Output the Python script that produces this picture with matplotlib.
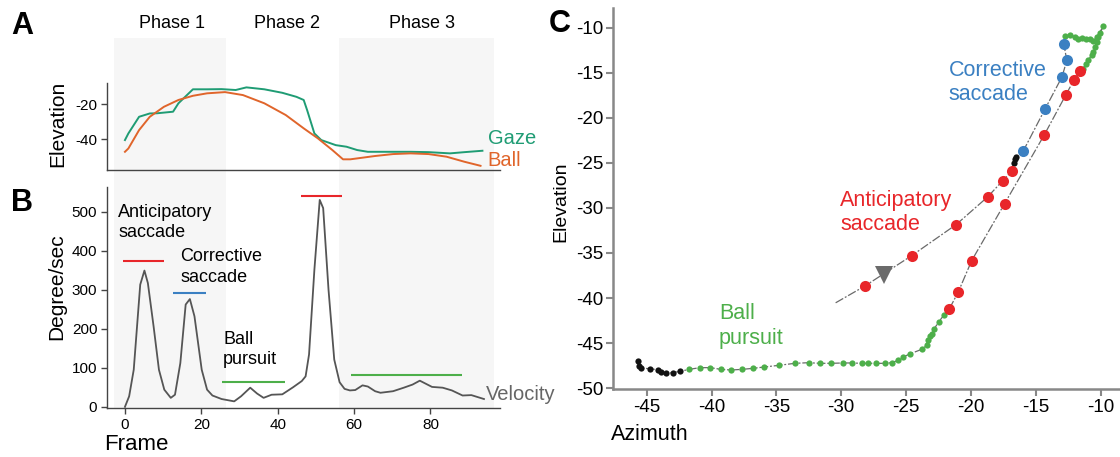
import matplotlib
matplotlib.use("Agg")
import matplotlib.pyplot as plt

plt.rcParams["font.family"] = ["Liberation Sans", "DejaVu Sans"]
plt.rcParams["axes.unicode_minus"] = False

W, H = 1120, 457

# ---- panel A: elevation of gaze and ball over frames
gaze_frames = [0, 0.9, 3.7, 6.5, 8.4, 12.6, 14.0, 17.8, 21.5, 25.3, 29.0, 31.8, 36.5, 41.2,
               44.9, 46.8, 47.7, 49.6, 51.4, 55.2, 58.0, 60.8, 63.6, 70.2, 74.8, 79.5, 85.1,
               88.9, 93.6]
gaze_elev = [-40.4, -36.6, -27.1, -25.2, -25.1, -24.2, -19.4, -11.4, -11.4, -11.3, -11.8, -10.3,
             -11.4, -13.4, -15.7, -17.5, -23.3, -36.6, -40.4, -43.3, -44.2, -46.1, -47.1, -47.1,
             -47.1, -47.3, -48.0, -47.3, -46.5]
ball_frames = [0, 0.9, 3.7, 6.5, 10.2, 14.0, 17.8, 21.5, 26.2, 30.9, 36.5, 42.1, 46.8, 50.5,
               54.3, 57.1, 59.0, 65.5, 70.2, 74.8, 79.5, 84.2, 88.9, 93.1]
ball_elev = [-47.1, -45.2, -34.7, -27.1, -21.4, -17.5, -15.1, -13.7, -13.0, -14.7, -19.4, -26.1,
             -33.7, -39.4, -46.1, -51.4, -51.4, -49.5, -48.4, -48.0, -48.4, -49.9, -52.8, -55.1]

phase_names = ["Phase 1", "Phase 2", "Phase 3"]
phase_label_x = [12.2, 42.4, 77.9]
shaded_spans = [(-2.8, 26.5), (56.1, 96.7)]

# ---- panel B: gaze velocity
vel_frames = [0.0, 1.1, 2.3, 4.0, 5.1, 6.0, 7.5, 8.9, 10.3, 12.0, 13.1, 14.5, 15.9, 17.0, 18.2,
              20.1, 21.5, 22.9, 25.3, 28.6, 30.4, 32.8, 34.6, 36.3, 38.4, 41.2, 44.0, 46.3,
              47.3, 48.2, 49.6, 51.0, 51.9, 53.3, 54.8, 56.2, 57.5, 58.9, 60.3, 62.2, 63.6,
              65.5, 66.9, 70.2, 73.0, 75.3, 77.2, 78.6, 80.4, 83.2, 85.6, 88.4, 90.7, 94.0]
vel_values = [0, 27, 95, 313, 349, 317, 206, 95, 44, 23, 31, 112, 262, 276, 232, 95, 44, 29, 20,
              14, 27, 49, 34, 23, 31, 32, 50, 66, 78, 134, 351, 530, 509, 300, 121, 63, 46, 42,
              43, 55, 52, 40, 36, 40, 49, 57, 67, 60, 51, 49, 42, 29, 30, 20]

seg_start = [-0.5, 12.6, 25.3, 46.1, 59.3]
seg_end = [10.2, 21.2, 41.8, 56.7, 88.3]
seg_level = [374, 292, 63, 540, 81]
seg_kind = ["r", "b", "g", "r", "g"]

# ---- panel C: gaze trajectory (azimuth, elevation), in path order
traj_az = [-30.43,
           -28.2, -24.57, -21.14, -18.71, -17.54, -16.83,
           -16.7, -16.6, -16.5,
           -15.97, -14.29, -12.97, -12.6, -12.83,
           -12.75, -12.36, -11.98, -11.72, -11.46, -11.12, -10.81, -10.56, -10.30, -9.79,
           -10.04, -10.17, -10.30, -10.43, -10.56, -10.68, -10.95, -11.12, -11.38,
           -11.57, -12.03, -12.69, -14.34, -17.4, -19.94, -20.97, -21.66,
           -22.09, -22.49, -22.83, -23.0, -23.14, -23.34, -23.40, -23.80, -24.66, -25.23,
           -25.63, -26.09, -26.66, -27.29, -27.91, -28.43, -29.14, -29.86, -30.80, -31.66,
           -32.51, -33.57, -34.80, -35.94, -36.77, -37.63, -38.49, -39.29, -40.09, -40.91,
           -41.71,
           -42.43, -43.0, -43.49, -43.86, -44.14, -44.71, -45.43, -45.63, -45.71]
traj_el = [-40.53,
           -38.69, -35.3, -31.85, -28.78, -26.96, -25.89,
           -24.96, -24.6, -24.3,
           -23.7, -19.04, -15.44, -13.6, -11.85,
           -10.92, -10.81, -11.0, -11.28, -11.17, -11.28, -11.22, -11.44, -11.06, -9.81,
           -10.62, -11.0, -11.55, -12.1, -12.65, -13.02, -13.57, -14.02, -14.6,
           -14.78, -15.74, -17.48, -21.89, -29.52, -35.85, -39.32, -41.2,
           -41.9, -42.68, -43.41, -43.97, -44.23, -44.67, -45.26, -45.70, -46.18, -46.55,
           -46.92, -47.18, -47.25, -47.25, -47.25, -47.25, -47.21, -47.21, -47.25, -47.25,
           -47.18, -47.25, -47.47, -47.66, -47.80, -47.92, -47.99, -47.92, -47.73, -47.73,
           -47.92,
           -48.14, -48.28, -48.36, -48.2, -47.99, -47.84, -47.8, -47.55, -47.0]
traj_kind = (["-"] + ["r"] * 6 + ["k"] * 3 + ["b"] * 5 + ["g"] * 19 + ["r"] * 8
             + ["g"] * 31 + ["k"] * 9)
arrow_az, arrow_el = -26.71, -37.4

COLORS = {"r": "#e8262a", "b": "#3b80c2", "g": "#4daf4a", "k": "#111111"}
GAZE_C = "#1f9c74"
BALL_C = "#e0652b"
SHADE = "#f6f6f6"
XLIM = (-4.7, 98.2)


def fig_rect(left, top, right, bottom):
    return [left / W, 1 - bottom / H, (right - left) / W, (bottom - top) / H]


fig = plt.figure(figsize=(W / 100, H / 100), dpi=100)

# shaded phases sit behind panels A and B
bg = fig.add_axes(fig_rect(107, 38, 500, 408))
bg.set_xlim(*XLIM)
bg.set_ylim(0, 1)
for lo, hi in shaded_spans:
    bg.axvspan(lo, hi, color=SHADE, lw=0)
bg.axis("off")
for name, x in zip(phase_names, phase_label_x):
    bg.text(x, 1 + 14 / 370, name, ha="center", va="center", fontsize=13)

ax_a = fig.add_axes(fig_rect(107, 83, 500, 170))
ax_a.patch.set_alpha(0)
ax_a.plot(gaze_frames, gaze_elev, color=GAZE_C, lw=1.4)
ax_a.plot(ball_frames, ball_elev, color=BALL_C, lw=1.4)
ax_a.set_xlim(*XLIM)
ax_a.set_ylim(-57.5, -7.8)
ax_a.set_yticks([-20, -40])
ax_a.set_xticks([])
ax_a.text(95, -39.4, "Gaze", color=GAZE_C, fontsize=14.5, va="center", clip_on=False)
ax_a.text(95, -51.8, "Ball", color=BALL_C, fontsize=14.5, va="center", clip_on=False)

ax_b = fig.add_axes(fig_rect(107, 187, 500, 408))
ax_b.patch.set_alpha(0)
ax_b.plot(vel_frames, vel_values, color="#555555", lw=1.3)
for s, e, lev, k in zip(seg_start, seg_end, seg_level, seg_kind):
    ax_b.hlines(lev, s, e, color=COLORS[k], lw=1.5)
ax_b.set_xlim(*XLIM)
ax_b.set_ylim(-3, 563)
ax_b.set_xticks([0, 20, 40, 60, 80])
ax_b.set_yticks([0, 100, 200, 300, 400, 500])
ax_b.text(-1.7, 520, "Anticipatory\nsaccade", fontsize=13, va="top", linespacing=1.25)
ax_b.text(14.5, 406, "Corrective\nsaccade", fontsize=13, va="top", linespacing=1.25)
ax_b.text(25.7, 195, "Ball\npursuit", fontsize=13, va="top", linespacing=1.25)
ax_b.text(94.5, 31, "Velocity", color="#666666", fontsize=14.5, va="center", clip_on=False)

for ax in (ax_a, ax_b):
    for side in ("top", "right"):
        ax.spines[side].set_visible(False)
    for side in ("left", "bottom"):
        ax.spines[side].set_color("#444444")
        ax.spines[side].set_linewidth(1.0)
    ax.tick_params(labelsize=11, length=4, width=1, color="#444444", pad=3)

fig.text(104 / W, 1 - 444 / H, "Frame", fontsize=16, va="center")
fig.text(58 / W, 1 - 124 / H, "Elevation", fontsize=15, rotation=90, ha="center", va="center")
fig.text(57 / W, 1 - 287 / H, "Degree/sec", fontsize=15, rotation=90, ha="center", va="center")

# ---- panel C
ax_c = fig.add_axes(fig_rect(613, 8, 1120, 389))
ax_c.plot(traj_az, traj_el, color="#6a6a6a", lw=0.9, dashes=(7, 1.5, 1.5, 1.5), zorder=1)
for k, ms in (("g", 4.5), ("k", 4.5), ("r", 8), ("b", 8)):
    xs = [a for a, kk in zip(traj_az, traj_kind) if kk == k]
    ys = [e for e, kk in zip(traj_el, traj_kind) if kk == k]
    ax_c.plot(xs, ys, "o", color=COLORS[k], ms=ms, mew=0, zorder=2)
ax_c.plot(arrow_az, arrow_el, "v", color="#6b6b6b", ms=13, mew=0, zorder=3)
ax_c.set_xlim(-47.6, -8.5)
ax_c.set_ylim(-50.1, -7.8)
ax_c.set_xticks(range(-45, -9, 5))
ax_c.set_yticks(range(-50, -9, 5))
for side in ("top", "right"):
    ax_c.spines[side].set_visible(False)
for side in ("left", "bottom"):
    ax_c.spines[side].set_color("#888888")
    ax_c.spines[side].set_linewidth(1.8)
ax_c.tick_params(labelsize=13.5, length=5, width=1.5, color="#888888", pad=2)
ax_c.text(-21.72, -13.6, "Corrective\nsaccade", color=COLORS["b"], fontsize=15.5, va="top",
          linespacing=1.2)
ax_c.text(-30.09, -28.0, "Anticipatory\nsaccade", color=COLORS["r"], fontsize=15.5, va="top",
          linespacing=1.2)
ax_c.text(-39.43, -40.6, "Ball\npursuit", color=COLORS["g"], fontsize=15.5, va="top",
          linespacing=1.2)
fig.text(560.5 / W, 1 - 202 / H, "Elevation", fontsize=14, rotation=90, ha="center",
         va="center")
fig.text(611 / W, 1 - 434 / H, "Azimuth", fontsize=15.5, va="center")

# panel letters
for letter, (x, y) in zip("ABC", [(22, 26), (22, 203), (560, 24)]):
    fig.text(x / W, 1 - y / H, letter, fontsize=22, fontweight="bold", ha="center", va="center")

fig.savefig("out.png", dpi=100)
